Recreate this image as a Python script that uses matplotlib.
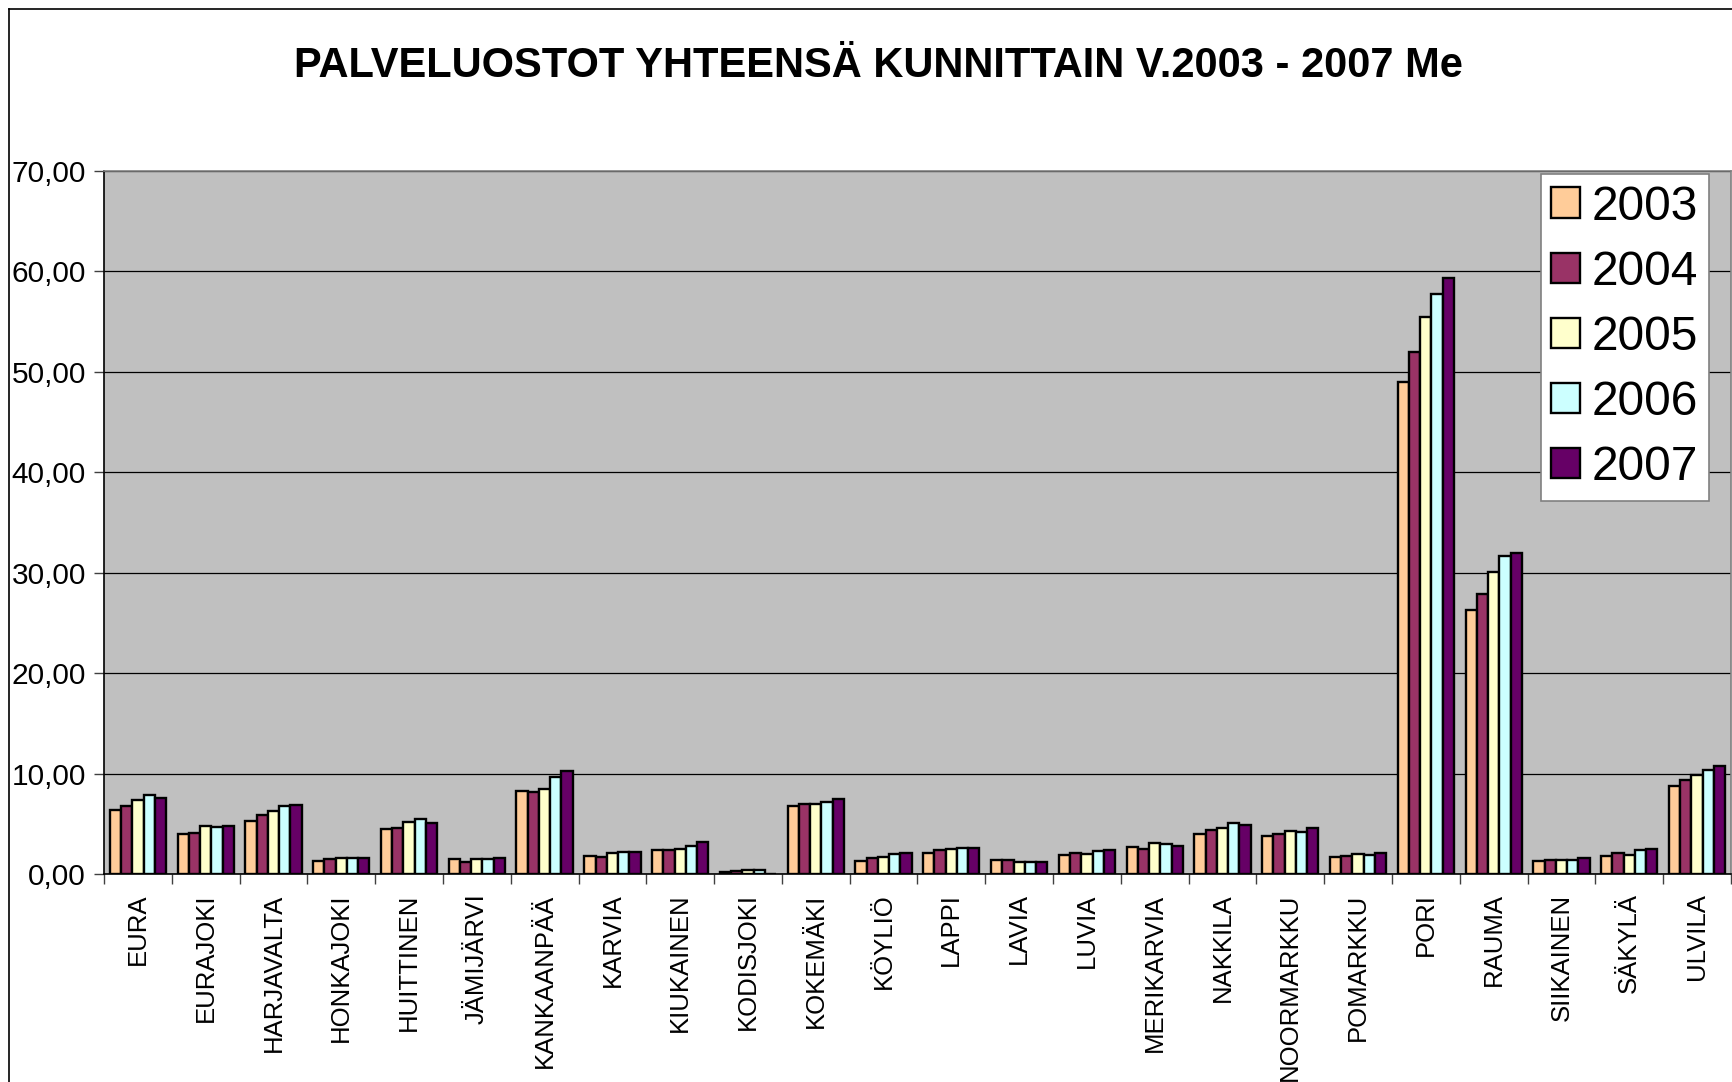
import matplotlib.pyplot as plt
import numpy as np
from matplotlib.lines import Line2D

plt.rcParams['font.family'] = ['Liberation Sans', 'DejaVu Sans']

kunnat = ['EURA', 'EURAJOKI', 'HARJAVALTA', 'HONKAJOKI', 'HUITTINEN', 'JÄMIJÄRVI',
          'KANKAANPÄÄ', 'KARVIA', 'KIUKAINEN', 'KODISJOKI', 'KOKEMÄKI', 'KÖYLIÖ',
          'LAPPI', 'LAVIA', 'LUVIA', 'MERIKARVIA', 'NAKKILA', 'NOORMARKKU',
          'POMARKKU', 'PORI', 'RAUMA', 'SIIKAINEN', 'SÄKYLÄ', 'ULVILA']
vuodet = ['2003', '2004', '2005', '2006', '2007']

v2003 = [6.35, 3.95, 5.27, 1.32, 4.47, 1.46, 8.25, 1.76, 2.39, 0.25, 6.78, 1.33,
         2.13, 1.36, 1.93, 2.69, 4.02, 3.79, 1.66, 48.97, 26.28, 1.25, 1.77, 8.75]
v2004 = [6.77, 4.09, 5.83, 1.46, 4.61, 1.22, 8.14, 1.66, 2.39, 0.33, 7.01, 1.63,
         2.36, 1.36, 2.06, 2.46, 4.39, 4.02, 1.79, 52.02, 27.89, 1.43, 2.08, 9.39]
v2005 = [7.38, 4.75, 6.30, 1.55, 5.22, 1.46, 8.47, 2.09, 2.49, 0.37, 6.98, 1.66,
         2.49, 1.20, 1.96, 3.09, 4.55, 4.25, 1.96, 55.41, 30.04, 1.36, 1.90, 9.90]
v2006 = [7.86, 4.66, 6.82, 1.55, 5.46, 1.46, 9.68, 2.16, 2.79, 0.41, 7.14, 1.99,
         2.59, 1.16, 2.29, 2.96, 5.08, 4.19, 1.93, 57.77, 31.69, 1.40, 2.35, 10.31]
v2007 = [7.62, 4.80, 6.91, 1.55, 5.08, 1.55, 10.25, 2.23, 3.16, 0.0, 7.48, 2.13,
         2.59, 1.20, 2.43, 2.76, 4.85, 4.58, 2.13, 59.30, 31.94, 1.63, 2.49, 10.80]

varit = ['#FFCC99', '#993366', '#FFFFCC', '#CCFFFF', '#660066']
sarjat = [v2003, v2004, v2005, v2006, v2007]

fig = plt.figure(figsize=(17.33, 10.82), dpi=100)
ax = fig.add_axes([0.0600, 0.1922, 0.9388, 0.6498])
ax.set_facecolor('#C0C0C0')

x = np.arange(len(kunnat))
leveys = 0.166
for i, (arvot, vari, nimi) in enumerate(zip(sarjat, varit, vuodet)):
    ax.bar(x + (i - 2) * leveys, arvot, leveys, color=vari, edgecolor='black',
           linewidth=1.7, label=nimi, zorder=3)

ax.set_xlim(-0.5, len(kunnat) - 0.5)
ax.set_ylim(0, 70)
yt = np.arange(0, 71, 10)
ax.set_yticks(yt)
ax.set_yticklabels([f'{v:.2f}'.replace('.', ',') for v in yt], fontsize=21.5)
ax.yaxis.grid(True, color='black', linewidth=0.9, zorder=1)
ax.set_axisbelow(True)

# category labels centred, tick marks on the boundaries
ax.set_xticks(x)
ax.set_xticklabels(kunnat, rotation=90, fontsize=18.5, ha='center', va='top')
ax.tick_params(axis='x', length=0, pad=14)
ax.set_xticks(np.arange(-0.5, len(kunnat)), minor=True)
ax.tick_params(axis='x', which='minor', length=7, width=1, color='#404040')
ax.tick_params(axis='y', length=7, width=1, color='#404040', pad=6)

for s in ax.spines.values():
    s.set_color('#808080')
    s.set_linewidth(1.2)
ax.spines['left'].set_color('black')
ax.spines['bottom'].set_color('black')

leg = ax.legend(loc='upper right', bbox_to_anchor=(0.9865, 0.9957), borderaxespad=0,
                fontsize=34.5, fancybox=False, framealpha=1, edgecolor='#808080',
                handlelength=0.6, handleheight=0.6, handletextpad=0.25,
                labelspacing=0.42, borderpad=0.22)
leg.get_frame().set_linewidth(1.2)

fig.text(0.507, 1 - 66 / 1082, 'PALVELUOSTOT YHTEENSÄ KUNNITTAIN V.2003 - 2007 Me',
         fontsize=30, fontweight='bold', ha='center', va='center')

# chart frame
fig.add_artist(Line2D([9 / 1733, 9 / 1733], [0, 1 - 9 / 1082], color='black', lw=1.2))
fig.add_artist(Line2D([9 / 1733, 1], [1 - 9 / 1082, 1 - 9 / 1082], color='black', lw=1.2))

fig.savefig('out.png', dpi=100)
